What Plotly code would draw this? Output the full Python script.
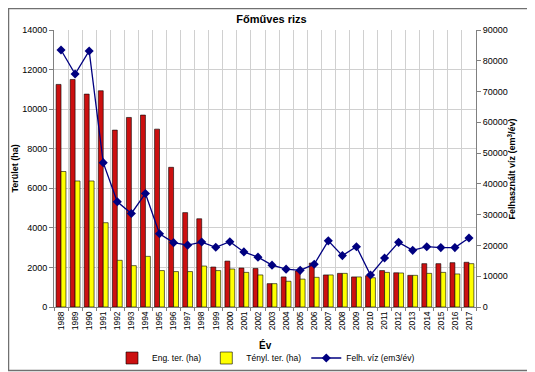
import plotly.graph_objects as go

years = [str(y) for y in range(1988, 2018)]
eng_ter = [11250, 11500, 10760, 10930, 8940, 9580, 9700, 8990, 7060, 4770,
           4460, 2020, 2320, 1970, 1950, 1180, 1520, 1820, 2220, 1620,
           1700, 1520, 1580, 1840, 1730, 1600, 2190, 2190, 2240, 2260]
tenyl_ter = [6850, 6370, 6370, 4260, 2360, 2090, 2560, 1840, 1790, 1790,
             2070, 1840, 1920, 1750, 1620, 1180, 1300, 1410, 1500, 1620,
             1700, 1520, 1480, 1750, 1720, 1600, 1700, 1750, 1670, 2190]
felh_viz = [83500, 75700, 83200, 46900, 34200, 30400, 36900, 23800, 20900, 20100,
            21100, 19400, 21200, 17900, 16200, 13600, 12300, 11900, 13900, 21500,
            16700, 19600, 10400, 15900, 21000, 18400, 19600, 19300, 19300, 22400]

FONT = "Liberation Sans, Arial, sans-serif"

fig = go.Figure()
fig.add_trace(go.Bar(x=years, y=eng_ter, name="Eng. ter. (ha)",
                     marker=dict(color="#CC1010", line=dict(color="#000000", width=0.6))))
fig.add_trace(go.Bar(x=years, y=tenyl_ter, name="Tényl. ter. (ha)",
                     marker=dict(color="#FFFF00", line=dict(color="#000000", width=0.6))))
fig.add_trace(go.Scatter(x=years, y=felh_viz, name="Felh. víz (em3/év)", yaxis="y2",
                         mode="lines+markers",
                         line=dict(color="#000080", width=1.3),
                         marker=dict(symbol="diamond", size=7, color="#000080")))

# page body adds an 8px offset; figure is sized/placed to compensate
OFF = 8
FW, FH = 535 - OFF, 372 - OFF
L, R, T, B = 54 - OFF, 535 - 476, 30 - OFF, 372 - 307
W, H = FW - L - R, FH - T - B

fig.update_layout(
    width=FW, height=FH,
    margin=dict(l=L, r=R, t=T, b=B, autoexpand=False),
    paper_bgcolor="white", plot_bgcolor="white",
    font=dict(family=FONT, size=9, color="#000000"),
    barmode="group", bargap=0.3, bargroupgap=0.0,
    title=dict(text="<b>Főműves rizs</b>", x=0.5, xanchor="center",
               y=1 - (19 - OFF) / FH, yanchor="middle", font=dict(size=11, family=FONT)),
    xaxis=dict(type="category", range=[-0.5, len(years) - 0.5], tickangle=-90,
               tickson="boundaries", ticks="outside", ticklen=3, tickcolor="#808080",
               showgrid=True, gridcolor="#D0D0D0", gridwidth=1,
               showline=True, linecolor="#808080", automargin=False,
               tickfont=dict(size=8.5)),
    yaxis=dict(range=[0, 14000], dtick=2000, tickformat="d", ticks="outside", ticklen=4,
               tickcolor="#808080", showgrid=True, gridcolor="#D0D0D0",
               showline=True, linecolor="#808080", zeroline=False, automargin=False,
               tickfont=dict(size=9)),
    yaxis2=dict(range=[0, 90000], dtick=10000, tickformat="d", overlaying="y", side="right",
                ticks="outside", ticklen=4, tickcolor="#808080",
                showgrid=False, showline=True, linecolor="#808080", zeroline=False,
                automargin=False, tickfont=dict(size=9)),
    legend=dict(orientation="h", x=(266 - 54) / W, xanchor="center", y=-(358 - 307) / H,
                yanchor="middle", font=dict(size=8.5), itemwidth=30,
                bgcolor="rgba(0,0,0,0)"),
    annotations=[
        dict(text="<b>Terület (ha)</b>", xref="paper", yref="paper",
             x=-(54 - 14) / W, y=0.5, textangle=-90, showarrow=False,
             xanchor="center", yanchor="middle", font=dict(size=9)),
        dict(text="<b>Felhasznált víz (em<sup>3</sup>/év)</b>", xref="paper", yref="paper",
             x=1 + (511 - 476) / W, y=0.5, textangle=-90, showarrow=False,
             xanchor="center", yanchor="middle", font=dict(size=9)),
        dict(text="<b>Év</b>", xref="paper", yref="paper",
             x=0.5, y=-(345 - 307) / H, showarrow=False,
             xanchor="center", yanchor="middle", font=dict(size=10)),
    ],
    shapes=[dict(type="rect", xref="paper", yref="paper",
                 x0=-(L - 0.5) / W, x1=1 + (R - 1.5) / W,
                 y0=-(B - 1.5) / H, y1=1 + (T - 0.5) / H,
                 line=dict(color="#707070", width=1.5))],
)

fig.write_html("out.html")
